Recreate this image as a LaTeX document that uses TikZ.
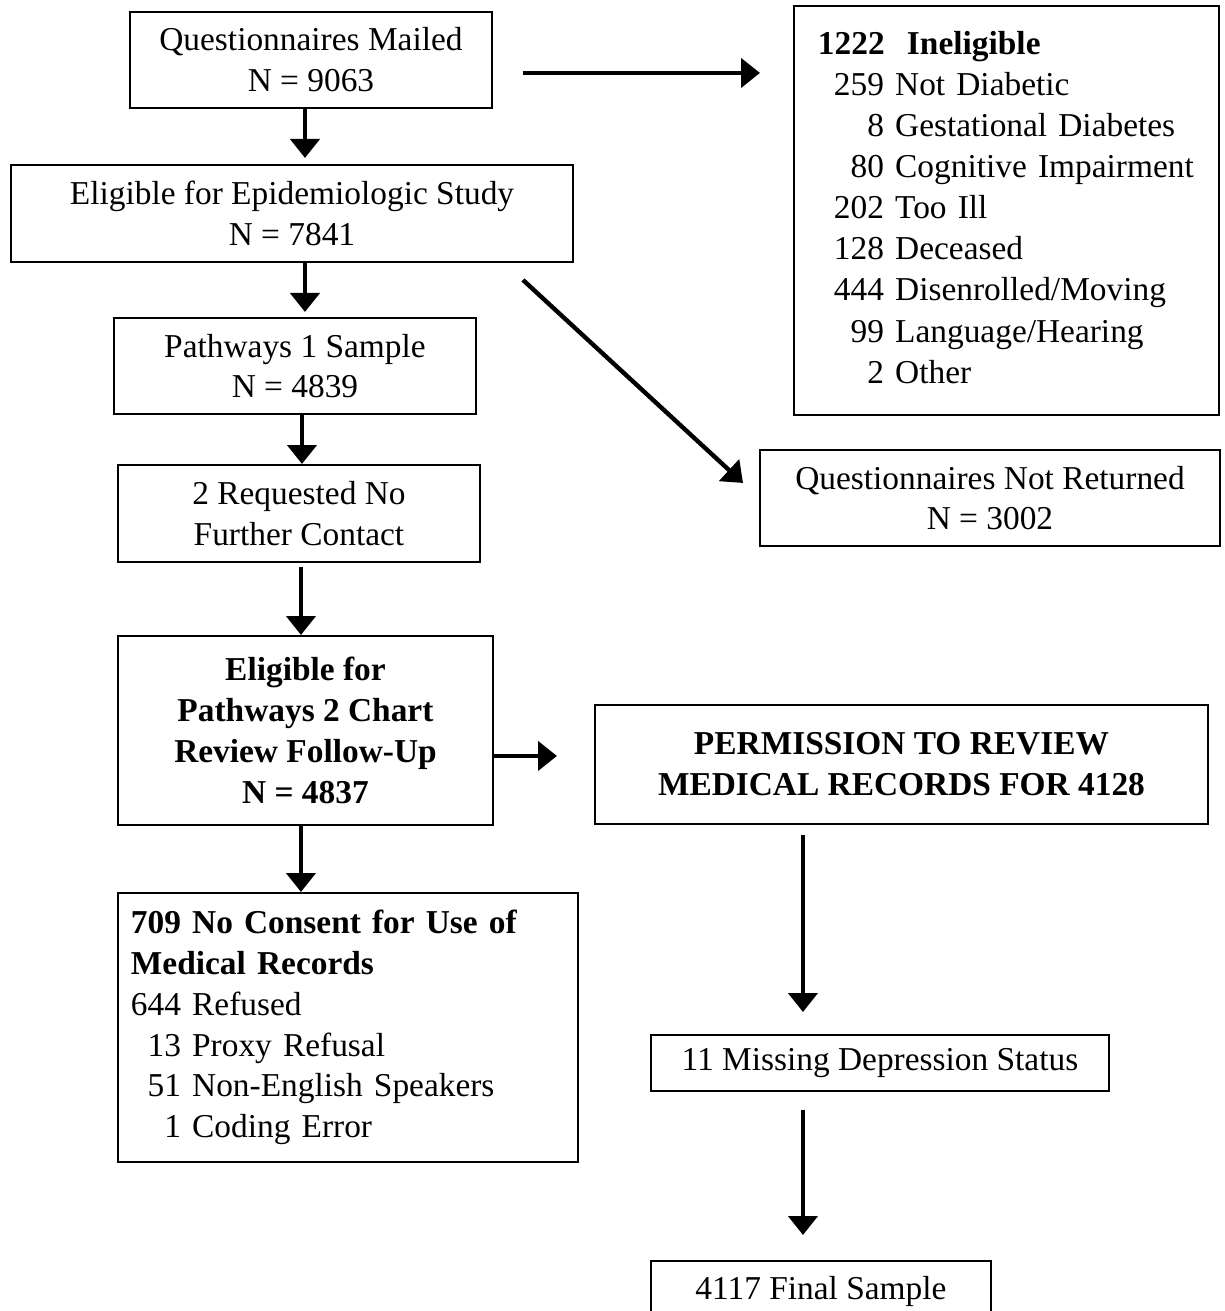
\documentclass[tikz,border=0pt]{standalone}
\usepackage{fontspec}
\setmainfont{Liberation Serif}
\usetikzlibrary{arrows.meta}

\begin{document}
\begin{tikzpicture}[
    box/.style={draw, rectangle, line width=1.1pt, anchor=north west, align=center, inner sep=0pt, font=\fontsize{19}{23.2}\selectfont},
    listbox/.style={box, align=left},
    arrow/.style={-{Triangle[length=0.38cm,width=0.58cm]}, line width=2.5pt}
]
\useasboundingbox (0,0) rectangle (24.48,-26.22);

% Main column
\node[box, minimum width=7.24cm, minimum height=1.92cm] (mailed) at (2.58,-0.22) {Questionnaires Mailed\\N = 9063};
\node[box, minimum width=11.24cm, minimum height=1.94cm] (eligible) at (0.20,-3.28) {Eligible for Epidemiologic Study\\N = 7841};
\node[box, minimum width=7.24cm, minimum height=1.92cm] (pathways) at (2.26,-6.34) {Pathways 1 Sample\\N = 4839};
\node[box, minimum width=7.24cm, minimum height=1.94cm] (nocontact) at (2.34,-9.28) {2 Requested No\\Further Contact};
\node[box, minimum width=7.50cm, minimum height=3.78cm, font=\fontsize{19}{23.2}\selectfont\bfseries] (chart) at (2.34,-12.70) {Eligible for\\Pathways 2 Chart\\Review Follow-Up\\N = 4837};
\node[listbox, text width=8.68cm, inner xsep=0.26cm, minimum height=5.38cm] (noconsent) at (2.34,-17.84) {%
\begin{tabular}{@{}r@{\ }l@{}}
\multicolumn{2}{@{}l@{}}{\textbf{709 No Consent for Use of}}\\
\multicolumn{2}{@{}l@{}}{\textbf{Medical Records}}\\
644 & Refused\\
13 & Proxy Refusal\\
51 & Non-English Speakers\\
1 & Coding Error
\end{tabular}};

% Right column
\node[listbox, text width=7.54cm, inner xsep=0.48cm, minimum height=8.18cm, font=\fontsize{19}{23.4}\selectfont] (ineligible) at (15.86,-0.10) {%
\begin{tabular}{@{\hspace{0.32cm}}r@{\ }l@{}}
\multicolumn{2}{@{}l@{}}{\textbf{1222\ \ Ineligible}}\\
259 & Not Diabetic\\
8 & Gestational Diabetes\\
80 & Cognitive Impairment\\
202 & Too Ill\\
128 & Deceased\\
444 & Disenrolled/Moving\\
99 & Language/Hearing\\
2 & Other
\end{tabular}};
\node[box, minimum width=9.20cm, minimum height=1.92cm] (notreturned) at (15.18,-8.98) {Questionnaires Not Returned\\N = 3002};
\node[box, minimum width=12.26cm, minimum height=2.38cm, font=\fontsize{19}{23.2}\selectfont\bfseries] (permission) at (11.88,-14.08) {PERMISSION TO REVIEW\\MEDICAL RECORDS FOR 4128};
\node[box, minimum width=9.16cm, minimum height=1.12cm] (missing) at (13.00,-20.68) {11 Missing Depression Status};
\node[box, minimum width=6.80cm, minimum height=1.20cm] (final) at (13.00,-25.20) {4117 Final Sample};

% Arrows
\draw[arrow, shorten >=0.66cm] ([xshift=0.60cm,yshift=-0.26cm]mailed.east) -- ([yshift=-0.26cm]mailed.east -| ineligible.west);
\draw[arrow, shorten >=0.12cm] ([xshift=-0.12cm]mailed.south) -- ([xshift=-0.12cm]mailed.south |- eligible.north);
\draw[arrow, shorten >=0.10cm] ([xshift=0.26cm]eligible.south) -- ([xshift=0.26cm]eligible.south |- pathways.north);
\draw[arrow] ([xshift=0.14cm]pathways.south) -- ([xshift=0.14cm]pathways.south |- nocontact.north);
\draw[arrow, shorten <=0.08cm] ([xshift=0.04cm]nocontact.south) -- ([xshift=0.04cm]nocontact.south |- chart.north);
\draw[arrow] ([xshift=-0.09cm]chart.south) -- ([xshift=-0.09cm]chart.south |- noconsent.north);
\draw[arrow, shorten >=0.74cm] ([yshift=-0.51cm]chart.east) -- ([yshift=-0.51cm]chart.east -| permission.west);
\draw[arrow] ([xshift=-1.02cm,yshift=-0.34cm]eligible.south east) -- ([xshift=-0.32cm,yshift=0.30cm]notreturned.west);
\draw[arrow, shorten <=0.20cm, shorten >=0.44cm] ([xshift=-1.97cm]permission.south) -- ([xshift=-1.97cm]permission.south |- missing.north);
\draw[arrow, shorten <=0.36cm, shorten >=0.50cm] ([xshift=-1.97cm]permission.south |- missing.south) -- ([xshift=-1.97cm]permission.south |- final.north);

\end{tikzpicture}
\end{document}
